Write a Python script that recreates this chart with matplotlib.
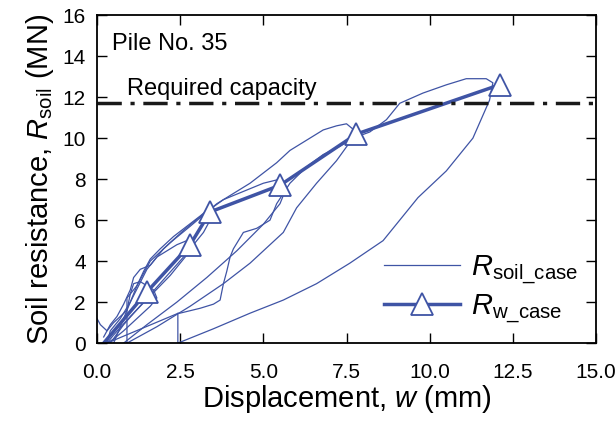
import matplotlib
matplotlib.use("Agg")
import matplotlib.pyplot as plt

plt.rcParams['font.family'] = ['Liberation Sans', 'DejaVu Sans']
plt.rcParams['mathtext.fontset'] = 'custom'
plt.rcParams['mathtext.rm'] = 'Liberation Sans'
plt.rcParams['mathtext.it'] = 'Liberation Sans:italic'

blue = '#3F54A5'

# R_soil_case, one loop per blow (loading then unloading)
loop1_x = [0.0, 0.1, 0.3, 0.5, 0.7, 0.9, 1.0, 1.1, 1.3, 1.5, 1.7, 1.8, 1.6, 1.2, 0.8, 0.5, 0.3]
loop1_y = [1.2, 0.9, 0.6, 1.0, 1.3, 1.6, 2.4, 2.9, 3.0, 2.8, 2.6, 2.2, 1.8, 1.2, 0.6, 0.2, 0.0]
loop2_x = [0.2, 0.4, 0.6, 0.8, 1.0, 1.1, 1.3, 1.6, 1.8, 2.1, 2.4, 2.7, 2.9, 2.7, 2.2, 1.6, 1.0, 0.5, 0.3]
loop2_y = [0.3, 0.9, 1.3, 1.9, 2.6, 3.2, 3.6, 3.8, 4.2, 4.5, 4.8, 5.0, 4.9, 4.3, 3.3, 2.3, 1.3, 0.4, 0.0]
loop3_x = [0.3, 0.4, 0.7, 1.0, 1.2, 1.4, 1.6, 1.9, 2.3, 2.7, 3.1, 3.4, 3.5, 3.2, 2.6, 2.0, 1.4, 0.8, 0.4]
loop3_y = [0.0, 0.6, 1.2, 2.0, 2.8, 3.5, 4.1, 4.6, 5.2, 5.7, 6.2, 6.6, 6.3, 5.4, 4.2, 3.1, 2.0, 0.9, 0.0]
loop4_x = [0.5, 1.0, 1.5, 2.0, 2.6, 3.2, 3.8, 4.4, 5.0, 5.5, 5.7, 5.5, 5.0, 4.2, 3.3, 2.4, 1.5, 0.8]
loop4_y = [0.0, 2.0, 3.6, 4.6, 5.5, 6.3, 7.0, 7.4, 7.8, 8.0, 7.6, 6.8, 5.8, 4.5, 3.2, 2.0, 0.9, 0.0]
loop5_x = [0.9, 0.9, 1.2, 1.6, 2.2, 2.8, 3.6, 4.6, 5.4, 5.8, 6.3, 6.8, 7.2, 7.5, 7.8, 7.6, 7.2, 6.6,
           6.0, 5.6, 4.6, 3.8, 2.8, 1.8, 0.9]
loop5_y = [0.0, 2.2, 2.8, 4.0, 4.9, 5.7, 6.8, 7.8, 8.8, 9.4, 9.9, 10.4, 10.6, 10.7, 10.3, 9.8, 8.9, 7.8,
           6.6, 5.4, 3.9, 2.9, 1.8, 0.8, 0.0]
loop6_x = [0.3, 2.43, 2.49, 3.1, 3.5, 3.7, 3.8, 3.9, 4.0, 4.1, 4.4, 4.8, 5.2, 5.4, 5.8, 6.3, 6.8, 7.3,
           7.7, 8.2, 8.7, 9.1, 9.8, 10.5, 11.1, 11.7, 11.9, 11.8, 11.3, 10.5, 9.65, 8.6, 7.6, 6.6,
           5.6, 4.6, 3.5, 2.43, 2.43]
loop6_y = [0.0, 1.45, 1.46, 1.7, 1.9, 2.1, 2.9, 3.5, 4.2, 4.6, 5.4, 5.6, 6.0, 6.8, 7.8, 8.6, 9.2, 9.6,
           10.0, 10.3, 10.9, 11.7, 12.2, 12.6, 12.9, 12.9, 12.7, 11.85, 10.0, 8.4, 7.1, 5.0, 3.9, 2.9,
           2.1, 1.46, 0.7, 0.0, 1.45]
soil_x = [loop1_x, loop2_x, loop3_x, loop4_x, loop5_x, loop6_x]
soil_y = [loop1_y, loop2_y, loop3_y, loop4_y, loop5_y, loop6_y]

# R_w_case
w_case = [0.2, 1.5, 2.8, 3.4, 5.5, 7.8, 12.1]
r_case = [0.0, 2.5, 4.8, 6.4, 7.7, 10.2, 12.6]

required = 11.7

fig = plt.figure(figsize=(6.16, 4.21), dpi=100)
ax = fig.add_axes([0.1575, 0.185, 0.81, 0.779])

for i in range(len(soil_x)):
    ax.plot(soil_x[i], soil_y[i], color=blue, lw=0.9,
            label=r'$R_{\mathrm{soil\_case}}$' if i == 0 else None)
ax.plot(w_case, r_case, color=blue, lw=2.5, marker='^', ms=16, mfc='white',
        mec=blue, mew=1.3, markevery=list(range(1, len(w_case))),
        label=r'$R_{\mathrm{w\_case}}$')

ax.axhline(required, color='#1a1a1a', lw=2.5, dashes=(7, 2.5, 1.2, 2.5))
ax.text(0.45, 14.6, 'Pile No. 35', fontsize=17, va='center')
ax.text(0.9, 12.4, 'Required capacity', fontsize=17, va='center')

ax.set_xlim(0, 15)
ax.set_ylim(0, 16)
ax.set_xticks([0, 2.5, 5, 7.5, 10, 12.5, 15])
ax.set_xticklabels(['0.0', '2.5', '5.0', '7.5', '10.0', '12.5', '15.0'])
ax.set_yticks(range(0, 17, 2))
ax.tick_params(direction='in', top=True, right=True, length=7, width=1,
               labelsize=15)
ax.tick_params(axis='x', pad=14)
ax.tick_params(axis='y', pad=8)
for s in ax.spines.values():
    s.set_linewidth(1.3)

ax.set_xlabel(r'Displacement, $w$ (mm)', fontsize=21, labelpad=1)
ax.set_ylabel(r'Soil resistance, $R_{\mathrm{soil}}$ (MN)', fontsize=21, labelpad=5)

ax.legend(loc='lower right', frameon=False, fontsize=21, handlelength=2.6,
          borderaxespad=0.2, labelspacing=0.2, handletextpad=0.4,
          bbox_to_anchor=(1.0, 0.0))

fig.savefig('out.png', dpi=100)
